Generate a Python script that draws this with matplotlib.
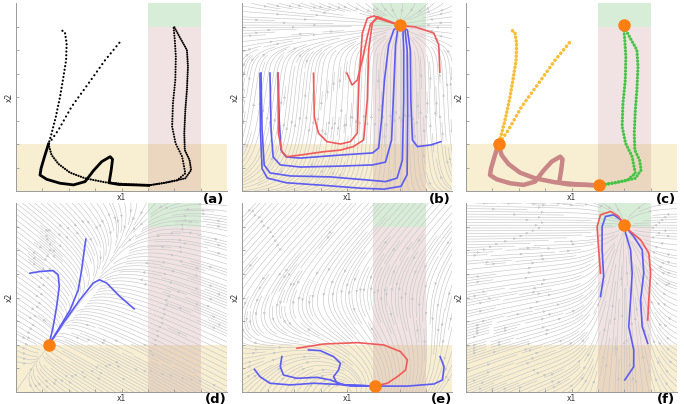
import numpy as np
import matplotlib
matplotlib.use("Agg")
import matplotlib.pyplot as plt
from matplotlib.patches import Rectangle

# ---------------- data ----------------
XLIM = (0, 8)
YLIM = (0, 8)
ticks = [1, 2, 3, 4, 5, 6, 7]

# shaded regions (x0, y0, width, height)
yellow_box = (0, 0, 8, 2)
pink_box = (5, 0, 2, 7)
green_box = (5, 7, 2, 1)

waypoint1 = (1.25, 2.0)
waypoint2 = (5.05, 0.25)
goal = (6.0, 7.05)

# demonstrations (segment 1: yellow, segment 2: red, segment 3: green)
demo1_seg1_x = [1.76, 1.86, 1.92, 1.90, 1.80, 1.67, 1.51, 1.35, 1.23]
demo1_seg1_y = [6.82, 6.71, 6.28, 5.57, 4.87, 4.01, 3.16, 2.45, 1.99]
demo2_seg1_x = [3.92, 3.38, 2.75, 2.11, 1.61, 1.23]
demo2_seg1_y = [6.31, 5.57, 4.58, 3.59, 2.60, 1.99]

demo1_seg2_x = [1.23, 1.35, 1.61, 2.05, 2.62, 3.38, 4.27, 5.03]
demo1_seg2_y = [1.99, 1.53, 1.15, 0.78, 0.54, 0.37, 0.28, 0.24]
demo2_seg2_x = [1.23, 1.08, 0.95, 0.91, 1.16, 1.67, 2.18, 2.62, 2.94, 3.25,
                3.57, 3.66, 3.61, 3.53, 3.89, 4.52, 5.03]
demo2_seg2_y = [1.99, 1.46, 0.96, 0.68, 0.50, 0.33, 0.26, 0.40, 0.87, 1.25,
                1.46, 1.35, 0.89, 0.35, 0.28, 0.26, 0.24]

demo1_seg3_x = [5.03, 5.66, 6.42, 6.64, 6.58, 6.40, 6.38, 6.42, 6.48, 6.52, 6.48, 6.22, 5.97]
demo1_seg3_y = [0.24, 0.35, 0.54, 0.89, 1.32, 1.74, 2.45, 3.45, 4.30, 5.29, 6.00, 6.52, 7.04]
demo2_seg3_x = [5.03, 5.53, 6.10, 6.42, 6.30, 6.05, 5.92, 5.95, 6.04, 6.06, 6.02, 5.97]
demo2_seg3_y = [0.24, 0.33, 0.45, 0.75, 1.46, 2.03, 2.74, 3.73, 4.72, 5.72, 6.43, 7.04]

# rollouts panel (b)
b_blue = [
    ([1.39, 1.43, 1.50, 1.69, 2.23, 3.75, 4.97, 5.20, 5.31, 5.42, 5.58, 5.77, 6.0],
     [5.02, 3.02, 1.74, 1.45, 1.40, 1.53, 1.62, 1.83, 3.02, 4.72, 6.21, 6.85, 7.05]),
    ([1.08, 1.12, 1.20, 1.47, 2.23, 3.75, 4.97, 5.46, 5.69, 5.77, 5.84, 5.92, 6.0],
     [5.02, 2.60, 1.45, 1.11, 1.02, 1.06, 1.11, 1.23, 2.17, 4.30, 6.21, 6.85, 7.05]),
    ([0.74, 0.78, 0.86, 1.08, 1.85, 3.37, 4.97, 5.46, 5.90, 6.10, 6.15, 6.15, 6.12, 6.0],
     [5.02, 2.60, 1.11, 0.77, 0.64, 0.60, 0.45, 0.40, 0.55, 1.32, 3.87, 6.00, 6.85, 7.05]),
    ([0.70, 0.72, 0.78, 0.98, 1.70, 3.00, 4.50, 5.40, 6.05, 6.28, 6.30, 6.28, 6.20, 6.0],
     [5.00, 2.50, 0.95, 0.55, 0.35, 0.25, 0.12, 0.08, 0.20, 0.70, 3.50, 6.00, 6.85, 7.05]),
    ([7.56, 7.18, 6.67, 6.48, 6.42, 6.40, 6.29, 6.0],
     [2.10, 1.96, 1.89, 2.17, 3.87, 6.00, 6.85, 7.05]),
]
b_red = [
    ([1.38, 1.40, 1.53, 1.72, 2.23, 3.10, 3.75, 4.24, 4.63, 4.77, 4.82, 4.96, 5.15, 6.0],
     [5.01, 2.46, 1.67, 1.46, 1.53, 1.67, 1.74, 1.89, 2.17, 3.87, 6.00, 7.14, 7.42, 7.05]),
    ([2.73, 2.76, 2.92, 3.24, 3.75, 4.13, 4.39, 4.45, 4.58, 4.77, 5.02, 6.0],
     [5.01, 3.16, 2.46, 2.10, 2.00, 2.10, 2.46, 4.58, 6.71, 7.35, 7.45, 7.05]),
    ([4.00, 4.19, 4.39, 4.58, 4.77, 4.89, 5.15, 6.0],
     [5.01, 4.51, 4.72, 5.57, 6.57, 7.10, 7.35, 7.05]),
    ([7.52, 7.48, 7.29, 6.60, 6.0],
     [5.06, 6.21, 6.72, 6.98, 7.05]),
]

# rollouts panel (d)
d_blue = [
    ([0.53, 0.91, 1.41, 1.60, 1.64, 1.54, 1.41, 1.25],
     [5.03, 5.10, 5.14, 4.96, 4.46, 3.61, 2.77, 2.00]),
    ([2.65, 2.59, 2.49, 2.36, 2.05, 1.67, 1.25],
     [6.47, 6.02, 5.17, 4.32, 3.47, 2.77, 2.00]),
    ([4.48, 3.94, 3.44, 3.16, 2.93, 2.42, 1.79, 1.25],
     [3.52, 4.04, 4.61, 4.75, 4.61, 3.90, 2.91, 2.00]),
]

# rollouts panel (e)
e_red = [
    ([2.10, 3.11, 4.39, 5.40, 6.03, 6.29, 6.22, 5.91, 5.53, 5.05],
     [1.85, 2.03, 2.09, 1.99, 1.71, 1.36, 0.93, 0.65, 0.37, 0.25]),
]
e_blue = [
    ([2.54, 2.99, 3.49, 3.75, 3.68, 3.49, 3.62, 4.13, 5.05],
     [1.78, 1.75, 1.50, 1.22, 0.93, 0.65, 0.37, 0.25, 0.25]),
    ([1.53, 1.47, 1.59, 2.10, 2.86, 3.37, 3.88, 5.05],
     [1.50, 1.07, 0.72, 0.58, 0.62, 0.51, 0.30, 0.25]),
    ([0.49, 0.70, 1.08, 1.85, 2.73, 3.49, 5.05],
     [0.96, 0.65, 0.37, 0.30, 0.37, 0.33, 0.25]),
    ([7.53, 7.68, 7.62, 7.30, 6.29, 5.05],
     [1.50, 1.07, 0.51, 0.34, 0.25, 0.25]),
]

# rollouts panel (f)
f_red = [
    ([5.10, 5.03, 4.97, 5.10, 5.48, 5.79, 6.0],
     [5.03, 6.02, 7.00, 7.50, 7.64, 7.43, 7.05]),
    ([6.89, 6.93, 7.00, 6.93, 6.62, 6.24, 6.0],
     [3.05, 3.90, 5.03, 5.88, 6.44, 6.79, 7.05]),
]
f_blue = [
    ([5.10, 5.22, 5.16, 5.16, 5.29, 5.60, 5.86, 6.0],
     [4.04, 4.89, 6.02, 7.00, 7.43, 7.50, 7.29, 7.05]),
    ([6.02, 6.36, 6.36, 6.17, 6.24, 6.30, 6.24, 6.05, 6.0],
     [0.51, 1.07, 1.78, 2.77, 3.90, 5.03, 6.02, 6.72, 7.05]),
    ([6.89, 6.68, 6.62, 6.74, 6.68, 6.36, 6.0],
     [2.06, 2.77, 3.90, 5.03, 6.02, 6.58, 7.05]),
]

# ---------------- styles ----------------
C_YEL = "#e9c25a"
C_PINK = "#c58a8a"
C_GREEN = "#3aa83a"
C_ORANGE = "#ff7f12"
C_BLUE = "#5c5cf2"
C_RED = "#f05a5a"
C_STREAM = "#c8c8c8"

fig = plt.figure(figsize=(6.84, 4.04), dpi=100)
W, H = 684.0, 404.0
col_left = [16, 241.5, 466]
row_box = [(3, 191), (203, 392)]
ax_w = 211


def make_ax(r, c):
    top, bot = row_box[r]
    ax = fig.add_axes([col_left[c] / W, 1 - bot / H, ax_w / W, (bot - top) / H])
    ax.set_xlim(*XLIM)
    ax.set_ylim(*YLIM)
    for s in ["top", "right"]:
        ax.spines[s].set_visible(False)
    for s in ["left", "bottom"]:
        ax.spines[s].set_color("#9a9a9a")
        ax.spines[s].set_linewidth(0.7)
    ax.set_xticks(ticks)
    ax.set_yticks(ticks)
    ax.tick_params(direction="in", length=2.5, width=0.6, color="#9a9a9a",
                   labelbottom=False, labelleft=False)
    ax.set_xlabel("x1", fontsize=5.5, labelpad=1.5, color="#333333")
    ax.set_ylabel("x2", fontsize=5.5, labelpad=1.5, color="#333333")
    ax.add_patch(Rectangle(yellow_box[:2], yellow_box[2], yellow_box[3],
                           facecolor=C_YEL, alpha=0.28, lw=0, zorder=0))
    ax.add_patch(Rectangle(pink_box[:2], pink_box[2], pink_box[3],
                           facecolor=C_PINK, alpha=0.24, lw=0, zorder=0))
    ax.add_patch(Rectangle(green_box[:2], green_box[2], green_box[3],
                           facecolor=C_GREEN, alpha=0.2, lw=0, zorder=0))
    return ax


gx1 = np.linspace(0, 8, 80)
X, Y = np.meshgrid(gx1, gx1)


def field_b(X, Y):
    gx, gy = goal
    w = 1.6 * np.exp(-Y / 0.9) + 1.2 * np.exp(-((Y - gy) / 0.9) ** 2) + 0.04
    U = (gx - X) * w
    V = (gy - Y) * (0.2 + 0.6 * (1 - np.exp(-Y / 0.6)))
    return U, V


def field_d(X, Y):
    gx, gy = waypoint1
    d = np.array([3.7, 5.7]) / np.hypot(3.7, 5.7)
    n = np.array([d[1], -d[0]])
    dx, dy = X - gx, Y - gy
    s = dx * d[0] + dy * d[1]
    t = dx * n[0] + dy * n[1]
    ds, dt = -0.4 * s, -3.0 * t
    return ds * d[0] + dt * n[0], ds * d[1] + dt * n[1]


def field_e(X, Y):
    gx, gy = waypoint2
    cx, cy = 3.8, 0.3
    rx, ry = X - cx, Y - cy
    r = np.hypot(rx, ry)
    f = 1.0 / (1 + (r / 3.6) ** 4)
    U = 0.8 * ry * f - 0.3 * (X - gx)
    V = -0.8 * rx * f - 0.6 * (Y - gy)
    wu = 1 / (1 + np.exp(-(Y - 4.0 - 0.3 * (X - 4)) / 0.8))
    U = (1 - wu) * U + wu * (-1.6)
    V = (1 - wu) * V + wu * (-1.9)
    return U, V


def field_f(X, Y):
    gx, gy = goal
    e = np.exp(-((X - gx) / 1.3) ** 2)
    U = 1.2 * np.tanh((gx - X) / 1.5) * (1 - 0.5 * e)
    U = U + (gx - X) * 0.8 * np.exp(-((Y - gy) / 0.8) ** 2)
    V = (gy - Y) * (0.08 + 0.5 * e)
    return U, V


def stream(ax, fld):
    U, V = fld(X, Y)
    ax.streamplot(X, Y, U, V, density=2.3, color=C_STREAM, linewidth=0.45,
                  arrowsize=0.35, zorder=1)


def dots(ax, xs, ys, color, lw, gap, z=3):
    ax.plot(xs, ys, color=color, lw=lw, linestyle=(0, (0.05, gap)),
            dash_capstyle="round", zorder=z)


# ---- (a)
ax = make_ax(0, 0)
dots(ax, demo1_seg1_x, demo1_seg1_y, "black", 1.6, 1.6)
dots(ax, demo2_seg1_x, demo2_seg1_y, "black", 1.6, 2.0)
dots(ax, demo1_seg2_x, demo1_seg2_y, "black", 1.6, 1.1)
ax.plot(demo2_seg2_x, demo2_seg2_y, color="black", lw=2.0, zorder=3)
dots(ax, demo1_seg3_x, demo1_seg3_y, "black", 1.5, 1.0)
dots(ax, demo2_seg3_x, demo2_seg3_y, "black", 1.5, 1.2)

# ---- (b)
ax = make_ax(0, 1)
stream(ax, field_b)
for xs, ys in b_blue:
    ax.plot(xs, ys, color=C_BLUE, lw=1.2, zorder=3)
for xs, ys in b_red:
    ax.plot(xs, ys, color=C_RED, lw=1.2, zorder=3)
ax.plot(*goal, "o", ms=8, color=C_ORANGE, zorder=5)

# ---- (c)
ax = make_ax(0, 2)
dots(ax, demo1_seg1_x, demo1_seg1_y, "#f7be3c", 2.6, 1.0)
dots(ax, demo2_seg1_x, demo2_seg1_y, "#f7be3c", 2.6, 1.2)
ax.plot(demo1_seg2_x, demo1_seg2_y, color="#c98686", lw=3.2, zorder=3)
ax.plot(demo2_seg2_x, demo2_seg2_y, color="#c98686", lw=3.2, zorder=3)
dots(ax, demo1_seg3_x, demo1_seg3_y, "#46c446", 2.3, 1.0)
dots(ax, demo2_seg3_x, demo2_seg3_y, "#46c446", 2.3, 1.0)
for p in (waypoint1, waypoint2, goal):
    ax.plot(*p, "o", ms=8, color=C_ORANGE, zorder=5)

# ---- (d)
ax = make_ax(1, 0)
stream(ax, field_d)
for xs, ys in d_blue:
    ax.plot(xs, ys, color=C_BLUE, lw=1.2, zorder=3)
ax.plot(*waypoint1, "o", ms=8, color=C_ORANGE, zorder=5)

# ---- (e)
ax = make_ax(1, 1)
stream(ax, field_e)
for xs, ys in e_blue:
    ax.plot(xs, ys, color=C_BLUE, lw=1.2, zorder=3)
for xs, ys in e_red:
    ax.plot(xs, ys, color=C_RED, lw=1.2, zorder=3)
ax.plot(*waypoint2, "o", ms=8, color=C_ORANGE, zorder=5)

# ---- (f)
ax = make_ax(1, 2)
stream(ax, field_f)
for xs, ys in f_blue:
    ax.plot(xs, ys, color=C_BLUE, lw=1.2, zorder=3)
for xs, ys in f_red:
    ax.plot(xs, ys, color=C_RED, lw=1.2, zorder=3)
ax.plot(*goal, "o", ms=8, color=C_ORANGE, zorder=5)

labels = ["(a)", "(b)", "(c)", "(d)", "(e)", "(f)"]
lab_pos = [(214, 199), (440, 199), (666, 199), (216, 399), (441, 399), (666, 399)]
for lab, (px, py) in zip(labels, lab_pos):
    fig.text(px / W, 1 - py / H, lab, fontsize=9.5, fontweight="bold",
             ha="center", va="center")

fig.savefig("out.png", dpi=100)
